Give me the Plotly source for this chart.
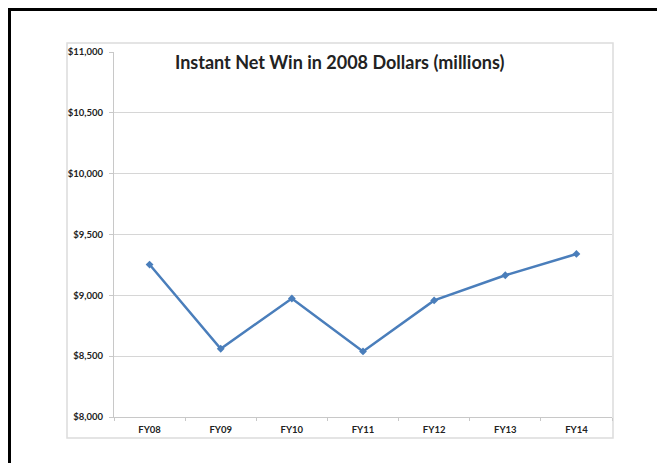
import plotly.graph_objects as go

# Fiscal years and instant net win (2008 dollars, millions)
years = ["FY08", "FY09", "FY10", "FY11", "FY12", "FY13", "FY14"]
net_win = [9253, 8561, 8974, 8539, 8958, 9165, 9340]

y_ticks = [8000, 8500, 9000, 9500, 10000, 10500, 11000]
y_tick_labels = ["$8,000", "$8,500", "$9,000", "$9,500", "$10,000", "$10,500", "$11,000"]

W, H = 657, 463
L, R, T, B = 114, 45, 52, 46
pw, ph = W - L - R, H - T - B


def px_x(x):
    return (x - L) / pw


def px_y(y):
    return (H - B - y) / ph


fig = go.Figure()
fig.add_trace(go.Scatter(
    x=years, y=net_win, mode="lines+markers",
    line=dict(color="#4A7EBB", width=2.5),
    marker=dict(symbol="diamond", size=6, color="#4A7EBB"),
    showlegend=False, hoverinfo="x+y",
))

tick_font = dict(family="Lato, Carlito, sans-serif", size=9.5, color="#222222", weight="bold")

fig.update_layout(
    width=W, height=H,
    margin=dict(l=L, r=R, t=T, b=B),
    paper_bgcolor="white", plot_bgcolor="white",
    xaxis=dict(
        type="category", tickson="boundaries", showgrid=False,
        showline=True, linecolor="#c8c8c8", linewidth=1,
        ticks="outside", ticklen=3, tickcolor="#c8c8c8",
        tickfont=tick_font, range=[-0.5, 6.5], fixedrange=True,
        ticklabelstandoff=4,
    ),
    yaxis=dict(
        range=[8000, 11000], tickmode="array", tickvals=y_ticks, ticktext=y_tick_labels,
        showgrid=True, gridcolor="#d6d6d6", gridwidth=1,
        showline=True, linecolor="#c8c8c8", linewidth=1,
        ticks="outside", ticklen=4, tickcolor="#c8c8c8",
        tickfont=tick_font, zeroline=False, fixedrange=True,
        ticklabelstandoff=4,
    ),
    shapes=[
        # light chart frame
        dict(type="rect", xref="paper", yref="paper",
             x0=px_x(67), x1=px_x(613), y0=px_y(438), y1=px_y(43),
             line=dict(color="#dcdcdc", width=1.5), layer="below"),
        # dark page border, left and top
        dict(type="line", xref="paper", yref="paper",
             x0=px_x(9.5), x1=px_x(9.5), y0=px_y(9.5), y1=px_y(480),
             line=dict(color="black", width=3)),
        dict(type="line", xref="paper", yref="paper",
             x0=px_x(8), x1=px_x(680), y0=px_y(9.5), y1=px_y(9.5),
             line=dict(color="black", width=3)),
    ],
    annotations=[
        dict(text="<b>Instant Net Win in 2008 Dollars (millions)</b>",
             xref="paper", yref="paper", x=px_x(339), y=px_y(62),
             xanchor="center", yanchor="middle", showarrow=False,
             font=dict(family="Lato, Carlito, sans-serif", size=18, color="#222222")),
    ],
)

fig.write_html("out.html")
